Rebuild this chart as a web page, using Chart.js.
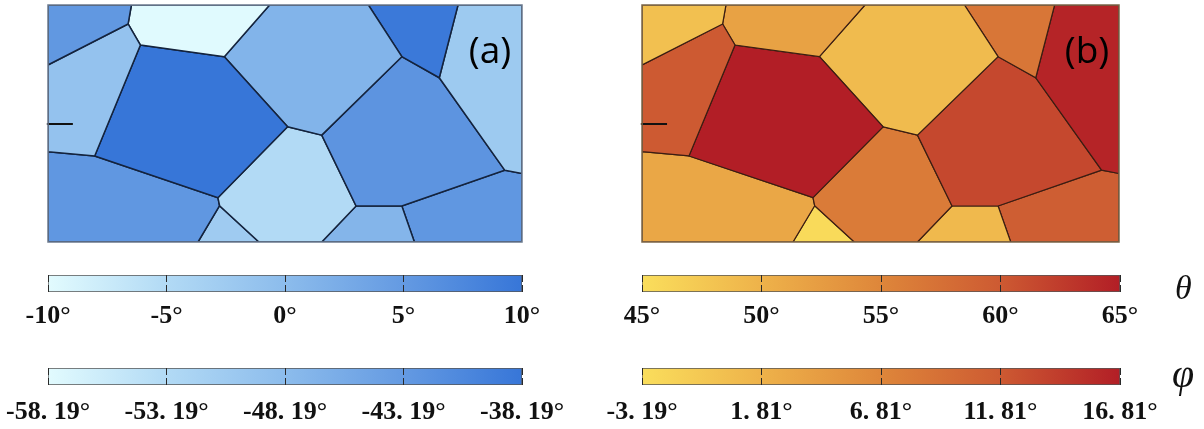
<!DOCTYPE html>
<html>
<head>
<meta charset="utf-8">
<script src="https://cdn.jsdelivr.net/npm/chart.js@4.4.1/dist/chart.umd.min.js"></script>
<style>
  html, body { margin: 0; padding: 0; background: #fff; }
  #wrap { position: relative; width: 1204px; height: 429px; overflow: hidden; }
  #wrap canvas { position: absolute; }
</style>
</head>
<body>
<div id="wrap">
  <canvas id="mapA" width="494" height="252" style="left:38px;top:0px"></canvas>
  <canvas id="mapB" width="497" height="252" style="left:632px;top:0px"></canvas>
  <canvas id="thetaBarA" width="594" height="70" style="left:-12px;top:270px"></canvas>
  <canvas id="phiBarA" width="594" height="70" style="left:-12px;top:363px"></canvas>
  <canvas id="thetaBarB" width="622" height="70" style="left:582px;top:270px"></canvas>
  <canvas id="phiBarB" width="622" height="70" style="left:582px;top:363px"></canvas>
</div>
<script>
// grain junctions, map units: x 0..200, y 0..100 (y grows downward)
const nodes = {
  TL: [0, 0], TR: [200, 0], BL: [0, 100], BR: [200, 100],
  A: [0, 25.3], B: [33.8, 8.0], C: [35.2, 0], D: [39.0, 16.9],
  E: [74.4, 21.8], F: [93.5, 0], G: [0, 61.9], H: [19.7, 63.7],
  I: [71.7, 81.3], J: [72.4, 84.7], K: [63.3, 100], L: [89.0, 100],
  M: [101.1, 51.4], N: [115.5, 54.9], O: [149.3, 21.8], P: [135.2, 0],
  Q: [165.1, 30.7], R: [173.0, 0], S: [192.7, 69.7], T: [200, 71.1],
  U: [130.0, 84.8], V: [149.3, 84.8], W: [115.5, 100], X: [154.6, 100]
};

// each grain as a ring of junction names
const grains = [
  ["TL", "C", "B", "A"],
  ["A", "B", "D", "H", "G"],
  ["C", "F", "E", "D", "B"],
  ["D", "E", "M", "I", "H"],
  ["F", "P", "O", "N", "M", "E"],
  ["P", "R", "Q", "O"],
  ["R", "TR", "T", "S", "Q"],
  ["O", "Q", "S", "V", "U", "N"],
  ["M", "N", "U", "W", "L", "J", "I"],
  ["G", "H", "I", "J", "K", "BL"],
  ["J", "L", "K"],
  ["U", "V", "X", "W"],
  ["V", "S", "T", "BR", "X"]
];

// grain values (degrees), same order as grains
const grainValuesA = [5.3, -1.0, -9.8, 10, 1.2, 9.6, -2.3, 5.8, -5.0, 5.4, -2.5, 1.0, 5.4];
const grainValuesB = [48.4, 60.0, 51.8, 65, 49.0, 56.8, 64.5, 61.5, 56.3, 51.3, 45.5, 49.2, 59.6];

// short mark on the left edge
const markX = [-0.5, 10.5];
const markY = [50.2, 50.2];

// colour bars
const thetaTicksA = [-10, -5, 0, 5, 10];
const phiTicksA = [-58.19, -53.19, -48.19, -43.19, -38.19];
const thetaTicksB = [45, 50, 55, 60, 65];
const phiTicksB = [-3.19, 1.81, 6.81, 11.81, 16.81];

const blueStops = [[226, 251, 254], [178, 218, 245], [140, 188, 236], [100, 154, 226], [55, 118, 216]];
const heatStops = [[250, 222, 92], [238, 178, 74], [222, 134, 58], [205, 90, 50], [178, 30, 38]];

function colorAt(stops, t) {
  t = Math.min(1, Math.max(0, t));
  const pos = t * (stops.length - 1);
  const i = Math.min(stops.length - 2, Math.floor(pos));
  const f = pos - i;
  const c = stops[i].map((v, k) => Math.round(v + (stops[i + 1][k] - v) * f));
  return `rgb(${c[0]},${c[1]},${c[2]})`;
}

const panelFrame = {
  id: "panelFrame",
  afterDatasetsDraw(chart, args, opts) {
    const { ctx, chartArea: a } = chart;
    ctx.save();
    ctx.strokeStyle = opts.color;
    ctx.lineWidth = 1.5;
    ctx.strokeRect(a.left, a.top, a.width, a.height);
    ctx.fillStyle = "#000";
    ctx.font = '37px "Open Sans"';
    ctx.textAlign = "center";
    ctx.textBaseline = "alphabetic";
    ctx.fillText(opts.label, a.right - 32, a.top + 58);
    ctx.restore();
  }
};

function makeMap(id, values, ticks, stops, edge, edgeWidth, frame, label) {
  const lo = ticks[0], hi = ticks[ticks.length - 1];
  const datasets = grains.map((ring, i) => {
    const pts = ring.concat(ring[0]).map(n => ({ x: nodes[n][0], y: nodes[n][1] }));
    return {
      data: pts,
      fill: "shape",
      backgroundColor: colorAt(stops, (values[i] - lo) / (hi - lo)),
      borderColor: edge,
      borderWidth: edgeWidth,
      pointRadius: 0,
      tension: 0
    };
  });
  // lowest order is drawn last, so the mark sits above the grains
  datasets.push({
    data: markX.map((x, i) => ({ x, y: markY[i] })),
    fill: false,
    borderColor: "#111",
    borderWidth: 2,
    pointRadius: 0,
    order: -1,
    clip: 4
  });
  new Chart(document.getElementById(id), {
    type: "line",
    data: { datasets },
    options: {
      responsive: false,
      animation: false,
      events: [],
      layout: { padding: { left: 10, top: 5, right: 10, bottom: 10 } },
      scales: {
        x: { type: "linear", min: 0, max: 200, display: false },
        y: { type: "linear", min: 0, max: 100, reverse: true, display: false }
      },
      plugins: {
        legend: { display: false },
        tooltip: { enabled: false },
        panelFrame: { color: frame, label }
      }
    },
    plugins: [panelFrame]
  });
}

const barSymbol = {
  id: "barSymbol",
  afterDraw(chart, args, opts) {
    if (!opts.text) return;
    const { ctx, chartArea: a } = chart;
    ctx.save();
    ctx.fillStyle = "#111";
    ctx.font = opts.font;
    ctx.textAlign = "left";
    ctx.textBaseline = "alphabetic";
    ctx.fillText(opts.text, a.right + opts.dx, a.top + opts.dy);
    ctx.restore();
  }
};

function makeBar(id, ticks, stops, fmt, padRight, labelGap, symbol) {
  const lo = ticks[0], hi = ticks[ticks.length - 1];
  new Chart(document.getElementById(id), {
    type: "bar",
    data: {
      labels: [""],
      datasets: [{
        data: [[lo, hi]],
        backgroundColor: (c) => {
          const area = c.chart.chartArea;
          if (!area) return stops[0];
          const sx = c.chart.scales.x;
          const g = c.chart.ctx.createLinearGradient(sx.getPixelForValue(lo), 0, sx.getPixelForValue(hi), 0);
          stops.forEach((s, i) => g.addColorStop(i / (stops.length - 1), `rgb(${s[0]},${s[1]},${s[2]})`));
          return g;
        },
        borderColor: "#555",
        borderWidth: 1,
        borderSkipped: false,
        barPercentage: 1,
        categoryPercentage: 1
      }]
    },
    options: {
      indexAxis: "y",
      responsive: false,
      animation: false,
      events: [],
      layout: { padding: { left: 60, right: padRight, top: 5, bottom: 0 } },
      scales: {
        y: { type: "category", display: false },
        x: {
          type: "linear",
          min: lo,
          max: hi,
          afterBuildTicks: (s) => { s.ticks = ticks.map(v => ({ value: v })); },
          afterFit: (s) => { s.height = 48; },
          grid: { color: "#2a2a2a", lineWidth: 1, drawTicks: false, z: 1 },
          border: { display: false, dash: [7, 3] },
          ticks: {
            autoSkip: false,
            maxRotation: 0,
            padding: labelGap,
            color: "#111",
            font: { family: '"Liberation Serif"', size: 26, weight: "bold" },
            callback: (v) => fmt(v)
          }
        }
      },
      plugins: {
        legend: { display: false },
        tooltip: { enabled: false },
        barSymbol: symbol || {}
      }
    },
    plugins: [barSymbol]
  });
}

const whole = (v) => `${v}°`;
const decimal = (v) => `${v.toFixed(2).replace(".", ". ")}°`;

makeMap("mapA", grainValuesA, thetaTicksA, blueStops, "#14233d", 1.5, "#6b7a8f", "(a)");
makeMap("mapB", grainValuesB, thetaTicksB, heatStops, "#3b1d12", 1.2, "#7b6548", "(b)");

makeBar("thetaBarA", thetaTicksA, blueStops, whole, 60, 9);
makeBar("phiBarA", phiTicksA, blueStops, decimal, 60, 12);
makeBar("thetaBarB", thetaTicksB, heatStops, whole, 84, 9,
  { text: "θ", font: 'italic 34px "Liberation Serif"', dx: 55, dy: 24 });
makeBar("phiBarB", phiTicksB, heatStops, decimal, 84, 12,
  { text: "φ", font: 'italic 40px "Liberation Serif"', dx: 52, dy: 19 });
</script>
</body>
</html>
